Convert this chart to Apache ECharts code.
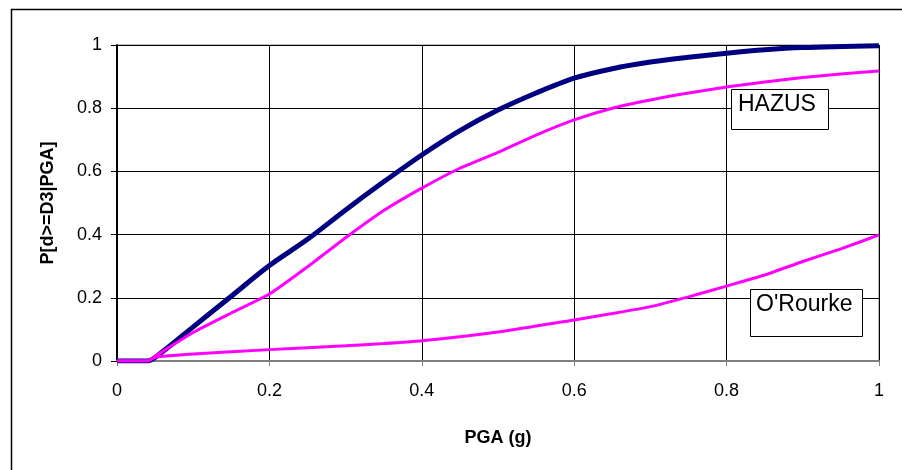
<!DOCTYPE html>
<html>
<head>
<meta charset="utf-8">
<script src="https://cdn.jsdelivr.net/npm/echarts@6/dist/echarts.min.js"></script>
<style>
html,body{margin:0;padding:0;background:#fff;}
#chart{width:902px;height:470px;}
</style>
</head>
<body>
<div id="chart"></div>
<script>
// PGA values (g) and probabilities
const hazusDarkX = [0, 0.04, 0.06, 0.1, 0.15, 0.2, 0.25, 0.3, 0.35, 0.4, 0.45, 0.5, 0.55, 0.6, 0.65, 0.7, 0.75, 0.8, 0.85, 0.9, 1.0];
const hazusDarkY = [0, 0, 0.03, 0.108, 0.205, 0.302, 0.385, 0.478, 0.567, 0.652, 0.729, 0.794, 0.848, 0.895, 0.925, 0.946, 0.961, 0.974, 0.985, 0.992, 0.998];

const hazusX = [0, 0.04, 0.05, 0.1, 0.15, 0.2, 0.25, 0.3, 0.35, 0.4, 0.45, 0.5, 0.55, 0.6, 0.65, 0.7, 0.75, 0.8, 0.85, 0.9, 0.95, 1.0];
const hazusY = [0, 0, 0.015, 0.09, 0.152, 0.212, 0.298, 0.39, 0.476, 0.547, 0.61, 0.66, 0.715, 0.763, 0.8, 0.826, 0.848, 0.867, 0.883, 0.897, 0.908, 0.918];

const orourkeX = [0, 0.04, 0.05, 0.1, 0.2, 0.3, 0.35, 0.4, 0.5, 0.6, 0.65, 0.7, 0.75, 0.8, 0.85, 0.9, 0.95, 1.0];
const orourkeY = [0, 0, 0.012, 0.022, 0.036, 0.048, 0.055, 0.064, 0.092, 0.13, 0.15, 0.172, 0.203, 0.237, 0.272, 0.315, 0.355, 0.399];

const xTicks = [0, 0.2, 0.4, 0.6, 0.8, 1];
const yTicks = [0, 0.2, 0.4, 0.6, 0.8, 1];

const xTitle = 'PGA (g)';
const yTitle = 'P[d>=D3|PGA]';
const labelHazus = 'HAZUS';
const labelOrourke = "O'Rourke";

function pairs(xs, ys) { return xs.map((x, i) => [x, ys[i]]); }

const FONT = '"Liberation Sans", Arial, sans-serif';
const chart = echarts.init(document.getElementById('chart'));

chart.setOption({
  animation: false,
  backgroundColor: '#fff',
  grid: { left: 117, right: 23, top: 45, bottom: 109, show: true, borderColor: '#808080', borderWidth: 1 },
  xAxis: {
    type: 'value', min: 0, max: 1, interval: 0.2,
    name: xTitle, nameLocation: 'middle', nameGap: 68,
    nameTextStyle: { fontFamily: FONT, fontSize: 18, fontWeight: 'bold', color: '#000' },
    axisLine: { show: true, onZero: false, lineStyle: { color: '#808080', width: 2 } },
    axisTick: { show: true, length: 5, lineStyle: { color: '#808080', width: 1 } },
    axisLabel: { fontFamily: FONT, fontSize: 18, color: '#000', margin: 21,
      formatter: v => xTicks.includes(+v.toFixed(1)) ? String(+v.toFixed(1)) : '' },
    splitLine: { show: true, lineStyle: { color: '#000', width: 1 } }
  },
  yAxis: {
    type: 'value', min: 0, max: 1, interval: 0.2,
    name: yTitle, nameLocation: 'middle', nameGap: 60, nameRotate: 90,
    nameTextStyle: { fontFamily: FONT, fontSize: 18, fontWeight: 'bold', color: '#000' },
    axisLine: { show: true, lineStyle: { color: '#000', width: 2 } },
    axisTick: { show: true, length: 6, lineStyle: { color: '#000', width: 1 } },
    axisLabel: { fontFamily: FONT, fontSize: 18, color: '#000', margin: 15,
      formatter: v => yTicks.includes(+v.toFixed(1)) ? String(+v.toFixed(1)) : '' },
    splitLine: { show: true, lineStyle: { color: '#000', width: 1 } }
  },
  series: [
    { type: 'line', data: pairs(hazusDarkX, hazusDarkY), showSymbol: false, smooth: 0.3,
      lineStyle: { color: '#000080', width: 5 }, z: 2 },
    { type: 'line', data: pairs(hazusX, hazusY), showSymbol: false, smooth: 0.2,
      lineStyle: { color: '#ff00ff', width: 3 }, z: 3 },
    { type: 'line', data: pairs(orourkeX, orourkeY), showSymbol: false, smooth: 0.2,
      lineStyle: { color: '#ff00ff', width: 3 }, z: 3 }
  ],
  graphic: [
    { type: 'rect', left: 9, top: 7, shape: { width: 920, height: 500 }, silent: true,
      style: { fill: 'none', stroke: '#000', lineWidth: 1.5 }, z: 100 },
    { type: 'rect', left: 731, top: 89, shape: { width: 97, height: 40 },
      style: { fill: '#fff', stroke: '#000', lineWidth: 1 }, z: 101 },
    { type: 'text', left: 738, top: 93, z: 102,
      style: { text: labelHazus, fontFamily: FONT, fontSize: 23, fill: '#000' } },
    { type: 'rect', left: 750, top: 289, shape: { width: 112, height: 47 },
      style: { fill: '#fff', stroke: '#000', lineWidth: 1 }, z: 101 },
    { type: 'text', left: 756, top: 293, z: 102,
      style: { text: labelOrourke, fontFamily: FONT, fontSize: 23, fill: '#000' } }
  ]
});
</script>
</body>
</html>
